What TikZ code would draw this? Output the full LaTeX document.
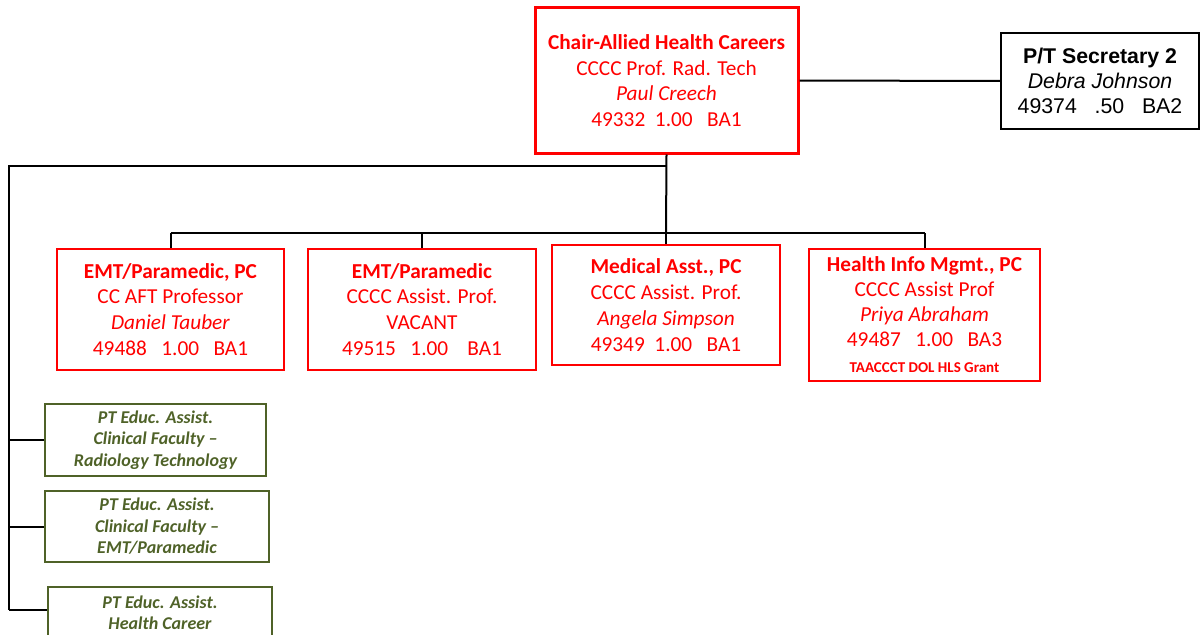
\documentclass[tikz,border=0pt]{standalone}
\usepackage{fontspec}
\setmainfont{Carlito}
\newfontfamily\arialfont{Liberation Sans}
\definecolor{olivegreen}{HTML}{4F6228}
\tikzset{
  chairbox/.style={draw=red, line width=3pt, text=red, align=center,
    minimum width=263pt, minimum height=145pt, inner sep=0pt,
    font=\fontsize{21.3}{25.5}\selectfont},
  secbox/.style={draw=black, line width=1.8pt, align=center,
    minimum width=198pt, minimum height=96pt, inner sep=0pt,
    font=\arialfont\fontsize{21.3}{25}\selectfont},
  unitbox/.style={draw=red, line width=1.5pt, text=red, align=center,
    minimum width=228pt, minimum height=121pt, inner sep=0pt,
    font=\fontsize{21.3}{25.8}\selectfont},
  ptbox/.style={draw=olivegreen, line width=1.5pt, text=olivegreen, align=center,
    minimum width=222pt, minimum height=72pt, inner sep=0pt,
    font=\bfseries\itshape\fontsize{18}{21.5}\selectfont},
  pttext/.style={text=olivegreen, align=center, inner sep=0pt,
    font=\bfseries\itshape\fontsize{18}{21.5}\selectfont},
  wire/.style={draw=black, line width=2pt},
}
\begin{document}
\begin{tikzpicture}[x=1pt, y=-1pt]
\useasboundingbox (0,0) rectangle (1201,634);
\clip (0,0) rectangle (1201,634);

% head of department and secretary
\node[chairbox] (chair) at (666.5,80.5)
  {\textbf{Chair-Allied Health Careers}\\CCCC Prof. Rad. Tech\\\textit{Paul Creech}\\49332\ \ 1.00\ \ \ BA1};
\node[secbox] (sec) at (1100,81)
  {\textbf{P/T Secretary 2}\\\textit{Debra Johnson}\\49374\ \ \ .50\ \ \ BA2};

% program coordinators
\node[unitbox, minimum width=227pt] (emt) at (170.5,309.5)
  {\textbf{EMT/Paramedic, PC}\\CC AFT Professor\\\textit{Daniel Tauber}\\49488\ \ \ 1.00\ \ \ BA1};
\node[unitbox] (emtv) at (422,309.5)
  {\bfseries EMT/Paramedic\\CCCC Assist. Prof.\\VACANT\\49515\ \ \ 1.00\ \ \ \ BA1};
\node[unitbox, minimum height=120pt] (med) at (666,305)
  {\textbf{Medical Asst., PC}\\CCCC Assist. Prof.\\\textit{Angela Simpson}\\49349\ \ 1.00\ \ \ BA1};
\node[unitbox, minimum width=231pt, minimum height=132pt, font=\fontsize{21.3}{25}\selectfont] (him) at (924.5,315)
  {\textbf{Health Info Mgmt., PC}\\CCCC Assist Prof\\\textit{Priya Abraham}\\49487\ \ \ 1.00\ \ \ BA3\\[1pt]{\bfseries\fontsize{15}{16}\selectfont TAACCCT DOL HLS Grant}};

% part-time clinical faculty
\node[ptbox, minimum width=221pt] (pta) at (155.5,440)
  {PT Educ. Assist.\\Clinical Faculty --\\Radiology Technology};
\node[ptbox, minimum width=224pt, minimum height=71pt] (ptb) at (157,526.5)
  {PT Educ. Assist.\\Clinical Faculty --\\EMT/Paramedic};
\node[ptbox, minimum width=224pt] (ptc) at (160,623) {};
\node[pttext] (ptctext) at (160,612.5) {PT Educ. Assist.\\Health Career};

% connectors
\coordinate (split) at (666,166);
\coordinate (bus) at (666,233);
\coordinate (busl) at (170.5,233);
\coordinate (busr) at (924.5,233);
\coordinate (rail) at (9,166);
\coordinate (railend) at (9,610);

\draw[wire] (chair.east) -- (sec.west);
\draw[wire] (chair.south) -- (bus);
\draw[wire] (busl) -- (busr);
\draw[wire] (busl) -- (emt.north);
\draw[wire] (emtv.north |- bus) -- (emtv.north);
\draw[wire] (med.north |- bus) -- (med.north);
\draw[wire] (busr) -- (him.north);
\draw[wire] (split) -- (rail) -- (railend);
\draw[wire] (rail |- pta.west) -- (pta.west);
\draw[wire] (rail |- ptb.west) -- (ptb.west);
\draw[wire] (railend) -- (railend -| ptc.west);
\end{tikzpicture}
\end{document}
